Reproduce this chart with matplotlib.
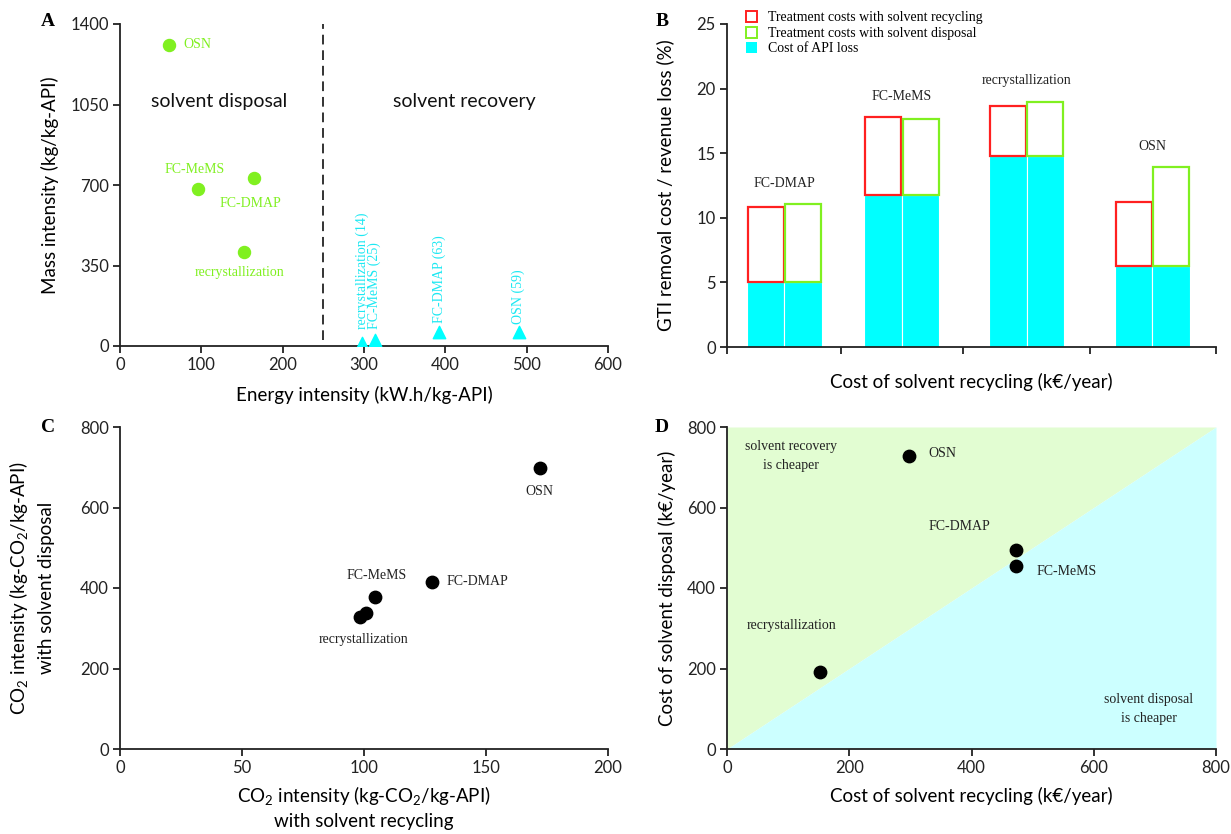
import numpy as np
import matplotlib
matplotlib.use("Agg")
import matplotlib.pyplot as plt
from matplotlib.patches import Patch

plt.rcParams['font.family'] = ['Lato', 'DejaVu Sans']
plt.rcParams['mathtext.fontset'] = 'custom'
plt.rcParams['mathtext.rm'] = 'Lato'
plt.rcParams['mathtext.it'] = 'Lato:italic'

SERIF = 'Liberation Serif'
GREEN = '#80F020'
CYAN = '#00FFFF'
CYAN_TXT = '#1CE8F2'
RED = '#FF2020'

# ---- panel A data ----
a_names = ['OSN', 'FC-MeMS', 'FC-DMAP', 'recrystallization']
a_disp_energy = [60, 96, 165, 153]
a_disp_mass = [1310, 683, 730, 409]
a_rec_names = ['recrystallization (14)', 'FC-MeMS (25)', 'FC-DMAP (63)', 'OSN (59)']
a_rec_energy = [298, 313, 392, 490]
a_rec_mass = [14, 25, 63, 59]

# ---- panel B data ----
b_groups = ['FC-DMAP', 'FC-MeMS', 'recrystallization', 'OSN']
b_api_loss = [5.0, 11.8, 14.8, 6.3]
b_total_recycling = [10.8, 17.8, 18.65, 11.2]
b_total_disposal = [11.05, 17.65, 19.0, 13.9]

# ---- panel C data ----
c_names = ['OSN', 'FC-DMAP', 'FC-MeMS', 'recrystallization', '']
c_recycling = [172, 128, 104.5, 98.5, 101]
c_disposal = [697, 416, 377, 329, 337]

# ---- panel D data ----
d_names = ['OSN', 'FC-DMAP', 'FC-MeMS', 'recrystallization']
d_recycling = [298, 473, 473, 152]
d_disposal = [727, 494, 454, 192]

W, H = 1231, 834
fig = plt.figure(figsize=(W / 100, H / 100), dpi=100)
LBL = 13.5
SZ = 10


def add_ax(l, t, r, b):
    ax = fig.add_axes([l / W, 1 - b / H, (r - l) / W, (b - t) / H])
    for s in ['top', 'right']:
        ax.spines[s].set_visible(False)
    for s in ['left', 'bottom']:
        ax.spines[s].set_linewidth(1.3)
        ax.spines[s].set_color('#222222')
    ax.tick_params(direction='out', length=5, width=1.3, labelsize=12, colors='#222222', pad=3)
    return ax


# ================= A =================
ax = add_ax(120, 24, 608, 346)
ax.set_xlim(0, 600)
ax.set_ylim(0, 1400)
ax.set_xticks([0, 100, 200, 300, 400, 500, 600])
ax.set_yticks([0, 350, 700, 1050, 1400])
ax.scatter(a_disp_energy, a_disp_mass, s=75, color=GREEN, zorder=3)
ax.scatter(a_rec_energy, a_rec_mass, s=80, marker='^', color=CYAN, zorder=3)
ax.axvline(250, ymin=0.02, ymax=1.0, color='#333333', ls=(0, (5, 3)), lw=1.4)
ax.text(122, 1063, 'solvent disposal', fontsize=14, ha='center', va='center', color='#111111')
ax.text(423, 1063, 'solvent recovery', fontsize=14, ha='center', va='center', color='#111111')
a_lbl_xy = [(78, 1310, 'left'), (92, 769, 'center'), (160, 618, 'center'), (147, 320, 'center')]
for name, (x, y, ha) in zip(a_names, a_lbl_xy):
    ax.text(x, y, name, family=SERIF, fontsize=SZ, color=GREEN, ha=ha, va='center')
for name, x, y in zip(a_rec_names, a_rec_energy, a_rec_mass):
    ax.text(x, max(y, 40) + 35, name, family=SERIF, fontsize=SZ, color=CYAN_TXT,
            rotation=90, ha='center', va='bottom')
ax.set_xlabel('Energy intensity (kW.h/kg-API)', fontsize=LBL, labelpad=9)
ax.set_ylabel('Mass intensity (kg/kg-API)', fontsize=LBL, labelpad=8)

# ================= B =================
ax = add_ax(727, 24, 1216, 347)
ax.set_xlim(0, 4)
ax.set_ylim(0, 25)
ax.set_yticks([0, 5, 10, 15, 20, 25])
ax.set_xticks([0, 0.93, 1.93, 2.97, 4.0])
ax.set_xticklabels([])
group_pos = np.array([0.47, 1.43, 2.45, 3.48])
w = 0.307
x_rec = group_pos - w / 2
x_dis = group_pos + w / 2
api = np.array(b_api_loss)
ax.bar(x_rec, api, width=w, color=CYAN, edgecolor='white', linewidth=0.8)
ax.bar(x_dis, api, width=w, color=CYAN, edgecolor='white', linewidth=0.8)
ax.bar(x_rec, np.array(b_total_recycling) - api, bottom=api, width=w * 0.96,
       fill=False, edgecolor=RED, linewidth=1.6)
ax.bar(x_dis, np.array(b_total_disposal) - api, bottom=api, width=w * 0.96,
       fill=False, edgecolor=GREEN, linewidth=1.6)
for name, x, t1, t2 in zip(b_groups, group_pos, b_total_recycling, b_total_disposal):
    ax.text(x, max(t1, t2) + 1.6, name, family=SERIF, fontsize=SZ, ha='center', va='center',
            color='#222222')
handles = [Patch(facecolor='none', edgecolor=RED, linewidth=1.4),
           Patch(facecolor='none', edgecolor=GREEN, linewidth=1.4),
           Patch(facecolor=CYAN, edgecolor='none')]
labels = ['Treatment costs with solvent recycling', 'Treatment costs with solvent disposal',
          'Cost of API loss']
ax.legend(handles, labels, loc='upper left', bbox_to_anchor=(0.038, 1.04), frameon=False,
          prop={'family': SERIF, 'size': SZ}, handlelength=0.85, handleheight=0.85,
          handletextpad=0.8, labelspacing=0.15, borderaxespad=0, borderpad=0)
ax.set_xlabel('Cost of solvent recycling (k€/year)', fontsize=LBL, labelpad=11)
ax.set_ylabel('GTI removal cost / revenue loss (%)', fontsize=LBL, labelpad=16)

# ================= C =================
ax = add_ax(120, 427, 608, 749)
ax.set_xlim(0, 200)
ax.set_ylim(0, 800)
ax.set_xticks([0, 50, 100, 150, 200])
ax.set_yticks([0, 200, 400, 600, 800])
ax.scatter(c_recycling, c_disposal, s=80, color='black', zorder=3)
c_lbl_xy = [(172, 640, 'center'), (134, 416, 'left'), (105, 430, 'center'), (100, 271, 'center')]
for name, (x, y, ha) in zip(c_names, c_lbl_xy):
    ax.text(x, y, name, family=SERIF, fontsize=SZ, ha=ha, va='center', color='#222222')
ax.set_xlabel('CO$_2$ intensity (kg-CO$_2$/kg-API)\nwith solvent recycling', fontsize=LBL,
              labelpad=6, linespacing=1.4)
ax.set_ylabel('CO$_2$ intensity (kg-CO$_2$/kg-API)\nwith solvent disposal', fontsize=LBL,
              labelpad=18, linespacing=1.55)

# ================= D =================
ax = add_ax(727, 427, 1216, 749)
ax.set_xlim(0, 800)
ax.set_ylim(0, 800)
ax.set_xticks([0, 200, 400, 600, 800])
ax.set_yticks([0, 200, 400, 600, 800])
diag = np.array([0, 800])
ax.fill_between(diag, diag, 800, color='#E2FDD2', lw=0, zorder=0)
ax.fill_between(diag, 0, diag, color='#CCFFFF', lw=0, zorder=0)
ax.scatter(d_recycling, d_disposal, s=80, color='black', zorder=3)
d_lbl_xy = [(330, 735, 'left'), (380, 553, 'center'), (555, 441, 'center'), (105, 306, 'center')]
for name, (x, y, ha) in zip(d_names, d_lbl_xy):
    ax.text(x, y, name, family=SERIF, fontsize=SZ, ha=ha, va='center', color='#222222')
ax.text(105, 727, 'solvent recovery\nis cheaper', family=SERIF, fontsize=SZ, ha='center',
        va='center', linespacing=1.6, color='#222222')
ax.text(690, 99, 'solvent disposal\nis cheaper', family=SERIF, fontsize=SZ, ha='center',
        va='center', linespacing=1.6, color='#222222')
ax.set_xlabel('Cost of solvent recycling (k€/year)', fontsize=LBL, labelpad=8)
ax.set_ylabel('Cost of solvent disposal (k€/year)', fontsize=LBL, labelpad=8)

# panel letters
for letter, (x, y) in zip('ABCD', [(48, 22), (662, 22), (48, 428), (662, 428)]):
    fig.text(x / W, 1 - y / H, letter, family=SERIF, fontsize=14, fontweight='bold',
             ha='center', va='center')

fig.savefig('out.png', dpi=100)
